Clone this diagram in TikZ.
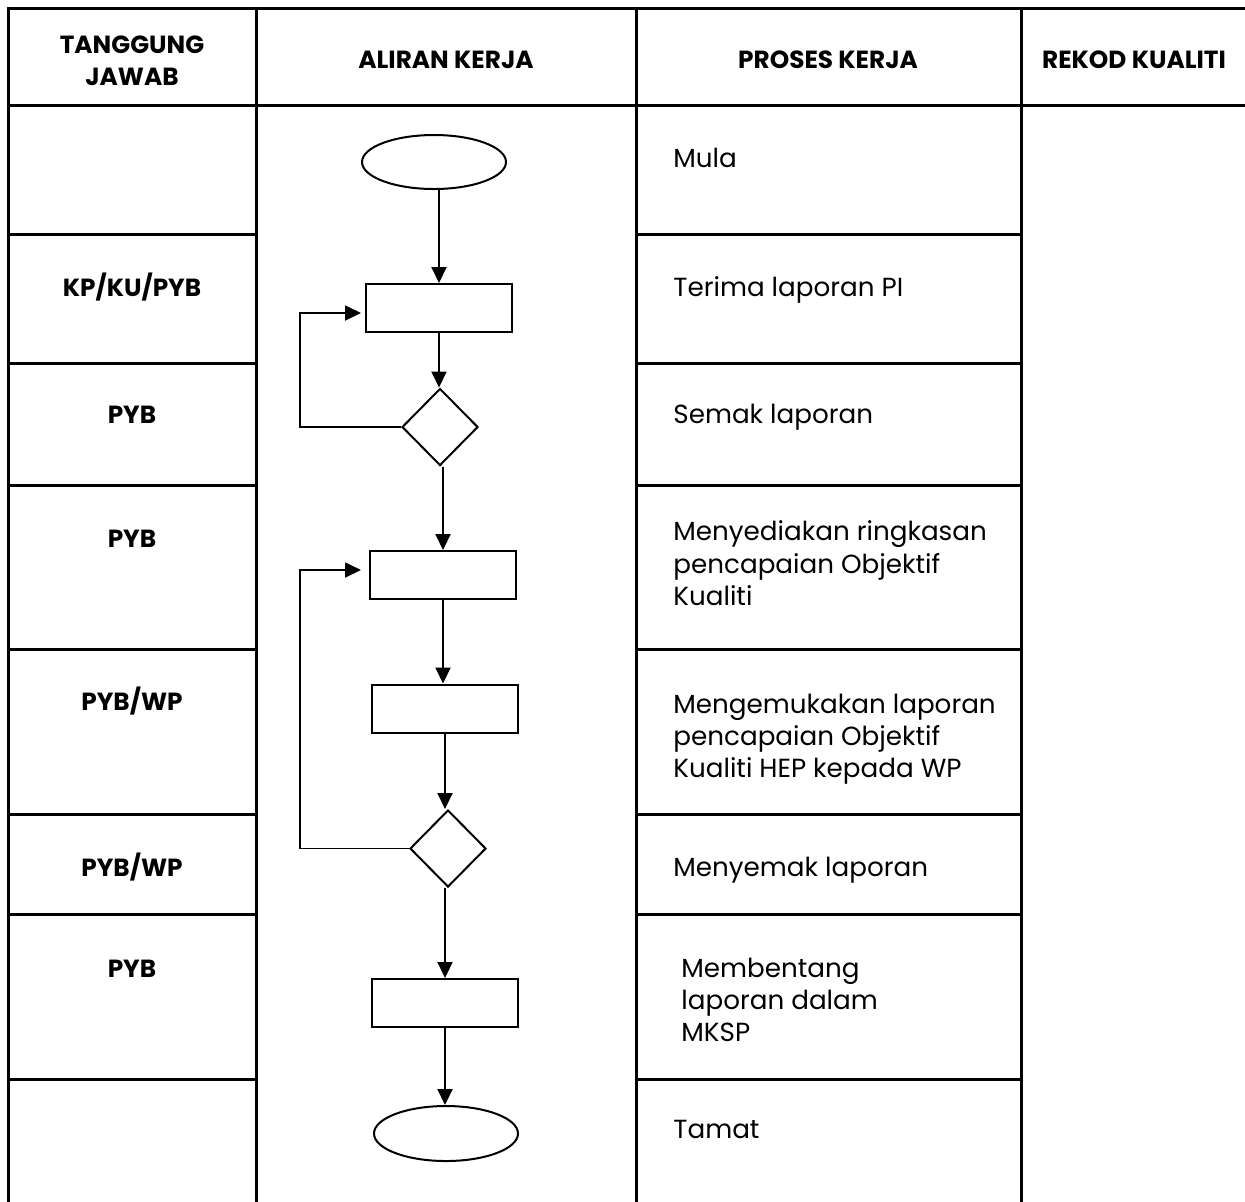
\documentclass[tikz,border=0pt]{standalone}
\usepackage{fontspec}
\setmainfont{Poppins}
\usetikzlibrary{shapes.geometric,arrows.meta}
\begin{document}
\begin{tikzpicture}[x=0.5pt,y=-0.5pt,
 grid/.style={line width=1.5pt},
 flow/.style={draw,line width=1pt,inner sep=0pt},
 term/.style={flow,ellipse,minimum width=72pt,minimum height=27pt},
 proc/.style={flow,rectangle,minimum width=73pt,minimum height=24pt},
 dec/.style={flow,diamond,minimum width=38pt,minimum height=38.5pt},
 arr/.style={line width=1pt,-{Triangle[length=8pt,width=7.5pt]}},
 loopline/.style={line width=0.9pt,-{Triangle[length=8pt,width=7.5pt]}},
 hdr/.style={font=\bfseries\fontsize{12.4}{16}\selectfont,anchor=base,inner sep=0pt},
 txt/.style={font=\fontsize{13.1}{16}\selectfont,anchor=base west,inner sep=0pt},
]
\useasboundingbox (0,0) rectangle (1245,1201);
\begin{scope}
\clip (0,0) rectangle (1245,1201);
\draw[grid] (1260,8) -- (8,8) -- (8,1220);
\draw[grid] (8,105) -- (1260,105);
\foreach \x in {256,636,1021} \draw[grid] (\x,8) -- (\x,1220);
\foreach \y in {234,363,485,649,814,914,1079} {\draw[grid] (8,\y) -- (256,\y); \draw[grid] (636,\y) -- (1021,\y);}
\end{scope}
% headers
\node[hdr] (h1a) at (132,53) {TANGGUNG};
\node[hdr] (h1b) at (132,85) {JAWAB};
\node[hdr] (h2) at (446,68) {ALIRAN KERJA};
\node[hdr] (h3) at (828,68) {PROSES KERJA};
\node[hdr] (h4) at (1134,68) {REKOD KUALITI};
% responsibility
\node[hdr] (w1) at (132,296) {KP/KU/PYB};
\node[hdr] (w2) at (132,423) {PYB};
\node[hdr] (w3) at (132,547) {PYB};
\node[hdr] (w4) at (132,710) {PYB/WP};
\node[hdr] (w5) at (132,876) {PYB/WP};
\node[hdr] (w6) at (132,977) {PYB};
% process text
\node[txt] (p1) at (673,167) {Mula};
\node[txt] (p2) at (673,296) {Terima laporan PI};
\node[txt] (p3) at (673,423) {Semak laporan};
\node[txt] (p4a) at (673,540) {Menyediakan ringkasan};
\node[txt] (p4b) at (673,573) {pencapaian Objektif};
\node[txt] (p4c) at (673,605) {Kualiti};
\node[txt] (p5a) at (673,713) {Mengemukakan laporan};
\node[txt] (p5b) at (673,745) {pencapaian Objektif};
\node[txt] (p5c) at (673,777) {Kualiti HEP kepada WP};
\node[txt] (p6) at (673,876) {Menyemak laporan};
\node[txt] (p7a) at (681,977) {Membentang};
\node[txt] (p7b) at (681,1009) {laporan dalam};
\node[txt] (p7c) at (681,1041) {MKSP};
\node[txt] (p8) at (673,1138) {Tamat};
% flow
\node[term] (start) at (434,162) {};
\node[proc] (r1) at (439,308) {};
\node[dec] (d1) at (440,427) {};
\node[proc] (r2) at (443,575) {};
\node[proc] (r3) at (445,708.5) {};
\node[dec] (d2) at (448,848.5) {};
\node[proc] (r4) at (445,1003) {};
\node[term, minimum height=27.5pt] (end) at (446,1133.5) {};
\coordinate (l1) at (300,313);
\coordinate (l2) at (300,570);
\draw[arr] (start.south -| r1.north) -- (r1.north);
\draw[arr] (r1.south) -- (r1.south |- d1.north);
\draw[arr] (d1.south -| r2.north) -- (r2.north);
\draw[arr] (r2.south) -- (r2.south |- r3.north);
\draw[arr] (r3.south) -- (r3.south |- d2.north);
\draw[arr] (d2.south -| r4.north) -- (r4.north);
\draw[arr] (r4.south) -- (r4.south |- end.north);
\draw[loopline] (d1.west) -- (d1.west -| l1) -- (l1) -- ([xshift=-2pt]l1 -| r1.west);
\draw[loopline] (d2.west) -- (d2.west -| l2) -- (l2) -- ([xshift=-4pt]l2 -| r2.west);
\end{tikzpicture}
\end{document}
